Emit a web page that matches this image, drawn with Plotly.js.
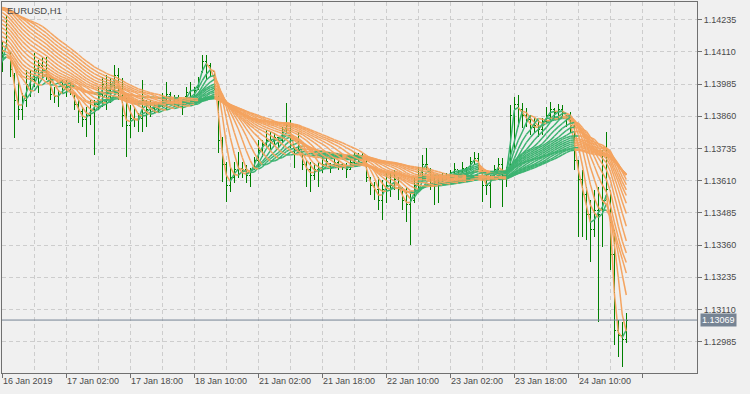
<!DOCTYPE html>
<html>
<head>
<meta charset="utf-8">
<script src="https://cdn.plot.ly/plotly-3.0.1.min.js"></script>
<style>
html,body{margin:0;padding:0;background:#F0F0F0;}
#chart{width:750px;height:394px;}
</style>
</head>
<body>
<div id="chart"></div>
<script>
// EURUSD H1 closes before the visible window (needed for the ribbon averages)
const historyClose = [1.14195,1.14203,1.14176,1.14214,1.14234,1.14226,1.14253,1.14273,1.14292,1.14331,1.14389,
1.14486,1.14467,1.14451,1.14459,1.14428,1.14412,1.14420,1.14389,1.14370,1.14381,1.14350,1.14331,1.14343,1.14312,
1.14288,1.14300,1.14265,1.14242,1.14253,1.14214,1.14195,1.14164,1.14141,1.14149,1.14110,1.14086,1.14098,1.14055,1.14032];

// visible bars, 16 Jan 2019 10:00 -> 24 Jan 22:00 (H1)
const open = [1.14048,1.14129,1.14098,1.14020,1.13923,1.13885,1.13923,1.13982,1.14001,1.14040,
1.14059,1.14040,1.14009,1.13943,1.13935,1.13954,1.13970,1.13970,1.13947,1.13904,
1.13877,1.13846,1.13865,1.13885,1.13904,1.13943,1.13982,1.13962,1.13982,1.14020,
1.13962,1.13865,1.13826,1.13853,1.13846,1.13853,1.13923,1.13885,1.13892,1.13896,
1.13904,1.13923,1.13943,1.13931,1.13923,1.13916,1.13935,1.13954,1.13962,1.13970,
1.14032,1.14071,1.14059,1.14032,1.13974,1.13768,1.13671,1.13593,1.13621,1.13652,
1.13659,1.13652,1.13632,1.13652,1.13690,1.13729,1.13749,1.13768,1.13768,1.13776,
1.13768,1.13807,1.13826,1.13737,1.13721,1.13718,1.13671,1.13652,1.13632,1.13652,
1.13652,1.13671,1.13675,1.13667,1.13679,1.13671,1.13663,1.13652,1.13679,1.13698,
1.13698,1.13702,1.13621,1.13593,1.13574,1.13535,1.13574,1.13593,1.13593,1.13613,
1.13574,1.13535,1.13516,1.13535,1.13593,1.13632,1.13671,1.13655,1.13613,1.13593,
1.13613,1.13624,1.13632,1.13640,1.13652,1.13644,1.13659,1.13652,1.13683,1.13698,
1.13648,1.13593,1.13593,1.13613,1.13652,1.13671,1.13632,1.13655,1.13865,1.13904,
1.13885,1.13865,1.13846,1.13815,1.13826,1.13807,1.13838,1.13865,1.13885,1.13873,
1.13885,1.13861,1.13846,1.13826,1.13690,1.13613,1.13555,1.13477,1.13419,1.13496,
1.13477,1.13535,1.13574,1.13322,1.13030,1.13011,1.12992];

const high = [1.14149,1.14253,1.14110,1.14028,1.14001,1.13951,1.14040,1.14040,1.14106,1.14079,
1.14090,1.14090,1.14013,1.13974,1.13962,1.14001,1.14001,1.13993,1.13951,1.13923,
1.13896,1.13896,1.13923,1.13923,1.13974,1.14013,1.14020,1.14009,1.14059,1.14048,
1.14009,1.13931,1.13904,1.13896,1.13873,1.14001,1.13923,1.13923,1.13916,1.13912,
1.13951,1.13993,1.13954,1.13943,1.13943,1.13916,1.13974,1.13993,1.13974,1.14013,
1.14098,1.14098,1.14067,1.14032,1.13982,1.13780,1.13683,1.13659,1.13683,1.13721,
1.13683,1.13671,1.13659,1.13702,1.13768,1.13768,1.13807,1.13799,1.13795,1.13780,
1.13819,1.13912,1.13846,1.13741,1.13799,1.13721,1.13690,1.13683,1.13679,1.13683,
1.13702,1.13702,1.13679,1.13698,1.13690,1.13679,1.13679,1.13698,1.13721,1.13718,
1.13718,1.13702,1.13624,1.13605,1.13624,1.13613,1.13644,1.13640,1.13652,1.13624,
1.13586,1.13586,1.13562,1.13624,1.13663,1.13710,1.13737,1.13659,1.13624,1.13632,
1.13640,1.13640,1.13652,1.13679,1.13652,1.13683,1.13663,1.13702,1.13721,1.13718,
1.13652,1.13632,1.13632,1.13671,1.13698,1.13698,1.13663,1.13904,1.13935,1.13943,
1.13912,1.13892,1.13865,1.13853,1.13846,1.13853,1.13896,1.13916,1.13892,1.13908,
1.13904,1.13865,1.13877,1.13826,1.13690,1.13652,1.13586,1.13535,1.13574,1.13586,
1.13729,1.13799,1.13574,1.13419,1.13069,1.13061,1.13096];

const low = [1.14032,1.14125,1.14013,1.13776,1.13846,1.13846,1.13896,1.13935,1.13974,1.13951,
1.14001,1.14001,1.13923,1.13912,1.13896,1.13951,1.13935,1.13943,1.13885,1.13834,
1.13819,1.13780,1.13826,1.13710,1.13885,1.13896,1.13885,1.13912,1.13951,1.13923,
1.13819,1.13702,1.13776,1.13819,1.13799,1.13799,1.13819,1.13857,1.13873,1.13877,
1.13896,1.13885,1.13904,1.13896,1.13892,1.13865,1.13931,1.13935,1.13935,1.13962,
1.14028,1.14001,1.14013,1.13962,1.13718,1.13605,1.13527,1.13566,1.13601,1.13621,
1.13621,1.13601,1.13586,1.13652,1.13663,1.13702,1.13741,1.13729,1.13749,1.13741,
1.13756,1.13795,1.13737,1.13659,1.13718,1.13652,1.13586,1.13566,1.13613,1.13586,
1.13640,1.13663,1.13640,1.13663,1.13652,1.13652,1.13621,1.13652,1.13671,1.13683,
1.13690,1.13605,1.13555,1.13535,1.13496,1.13458,1.13524,1.13547,1.13574,1.13535,
1.13496,1.13450,1.13360,1.13524,1.13566,1.13613,1.13652,1.13574,1.13516,1.13524,
1.13605,1.13613,1.13621,1.13624,1.13624,1.13640,1.13624,1.13652,1.13671,1.13652,
1.13527,1.13555,1.13504,1.13613,1.13624,1.13508,1.13586,1.13652,1.13729,1.13819,
1.13815,1.13819,1.13787,1.13795,1.13780,1.13787,1.13834,1.13846,1.13846,1.13846,
1.13853,1.13819,1.13795,1.13652,1.13392,1.13392,1.13380,1.13294,1.13392,1.13061,
1.13353,1.13535,1.13263,1.12972,1.12926,1.12887,1.12980];

const close = [1.14117,1.14156,1.14040,1.13923,1.13885,1.13923,1.13982,1.14001,1.14040,1.14059,
1.14040,1.14020,1.13943,1.13935,1.13943,1.13970,1.13970,1.13954,1.13904,1.13877,
1.13846,1.13865,1.13885,1.13904,1.13943,1.13982,1.13962,1.13982,1.14020,1.13962,
1.13865,1.13826,1.13853,1.13846,1.13853,1.13923,1.13885,1.13892,1.13896,1.13904,
1.13923,1.13943,1.13931,1.13923,1.13916,1.13904,1.13954,1.13962,1.13962,1.14001,
1.14071,1.14059,1.14032,1.13982,1.13768,1.13671,1.13593,1.13621,1.13652,1.13659,
1.13652,1.13632,1.13652,1.13690,1.13729,1.13749,1.13768,1.13768,1.13776,1.13768,
1.13807,1.13826,1.13768,1.13710,1.13729,1.13671,1.13652,1.13632,1.13652,1.13652,
1.13671,1.13683,1.13659,1.13679,1.13671,1.13663,1.13652,1.13679,1.13698,1.13698,
1.13702,1.13621,1.13593,1.13574,1.13535,1.13574,1.13593,1.13593,1.13613,1.13574,
1.13535,1.13516,1.13535,1.13593,1.13632,1.13671,1.13671,1.13613,1.13593,1.13613,
1.13624,1.13632,1.13640,1.13652,1.13644,1.13659,1.13652,1.13683,1.13698,1.13671,
1.13593,1.13593,1.13613,1.13652,1.13671,1.13632,1.13644,1.13865,1.13904,1.13885,
1.13865,1.13846,1.13815,1.13826,1.13807,1.13838,1.13865,1.13885,1.13873,1.13885,
1.13877,1.13846,1.13826,1.13690,1.13613,1.13555,1.13477,1.13419,1.13496,1.13477,
1.13535,1.13574,1.13322,1.13030,1.13011,1.12992,1.13069];

const timeLabels = ['16 Jan 2019','17 Jan 02:00','17 Jan 18:00','18 Jan 10:00','21 Jan 02:00',
'21 Jan 18:00','22 Jan 10:00','23 Jan 02:00','23 Jan 18:00','24 Jan 10:00'];
const priceTicks = [1.12985,1.13110,1.13235,1.13360,1.13485,1.13610,1.13735,1.13860,1.13985,1.14110,1.14235];
const lastPrice = 1.13069;
const ribbonPeriods = [2,4,6,8,10,12,14,16,18,20,22,24,26,28,30,32,34,36,38,40];

const UP = '#3CB371', DOWN = '#F4A460', BAR = '#008000';
const N = close.length;
const idx = close.map((_, i) => i);

const traces = [{
  type: 'ohlc', x: idx, open: open, high: high, low: low, close: close,
  increasing: {line: {color: BAR, width: 1}},
  decreasing: {line: {color: BAR, width: 1}},
  tickwidth: 0.3, hoverinfo: 'skip', showlegend: false
}];

const all = historyClose.concat(close);
const off = historyClose.length;
function sma(p, i) {
  let s = 0;
  for (let k = 0; k < p; k++) s += all[off + i - k];
  return s / p;
}
ribbonPeriods.forEach(p => {
  const ux = [], uy = [], dx = [], dy = [];
  let prev = sma(p, -1);
  for (let i = 0; i < N; i++) {
    const cur = sma(p, i);
    if (cur > prev) { ux.push(i - 1, i, null); uy.push(prev, cur, null); }
    else { dx.push(i - 1, i, null); dy.push(prev, cur, null); }
    prev = cur;
  }
  traces.push({type: 'scatter', mode: 'lines', x: dx, y: dy, line: {color: DOWN, width: 1.5},
    hoverinfo: 'skip', showlegend: false, connectgaps: false});
  traces.push({type: 'scatter', mode: 'lines', x: ux, y: uy, line: {color: UP, width: 1.5},
    hoverinfo: 'skip', showlegend: false, connectgaps: false});
});

const FONT = 'Liberation Sans, Arial, sans-serif';
const annotations = timeLabels.map((t, k) => ({
  text: t, x: k * 16, xref: 'x', y: 0, yref: 'paper', xanchor: 'left', yanchor: 'top',
  yshift: -1, xshift: -1, showarrow: false, font: {family: FONT, size: 9, color: '#4a4a4a'}
}));
annotations.push({text: 'EURUSD,H1', x: 0, xref: 'paper', y: 1, yref: 'paper', xanchor: 'left',
  yanchor: 'top', xshift: 3, yshift: -1, showarrow: false, font: {family: FONT, size: 9.5, color: '#4a4a4a'}});
annotations.push({text: lastPrice.toFixed(5), x: 1, xref: 'paper', y: lastPrice, yref: 'y',
  xanchor: 'left', yanchor: 'middle', xshift: 3, showarrow: false, bgcolor: '#768494',
  borderpad: 1, font: {family: FONT, size: 9, color: '#ffffff'}});

const layout = {
  width: 750, height: 394,
  margin: {l: 2, r: 53, t: 2, b: 21, pad: 0},
  paper_bgcolor: '#F0F0F0', plot_bgcolor: '#F0F0F0',
  showlegend: false,
  xaxis: {
    type: 'linear', range: [-0.075, 173.675], fixedrange: true,
    tickmode: 'linear', tick0: 0, dtick: 16,
    ticks: 'outside', ticklen: 4, tickcolor: '#707070', showticklabels: false,
    showgrid: true, gridcolor: '#CDCDCD', griddash: '4px,3px', gridwidth: 1,
    minor: {tick0: 0, dtick: 8, showgrid: true, gridcolor: '#CDCDCD', griddash: '4px,3px', ticks: ''},
    showline: true, mirror: true, linecolor: '#707070', linewidth: 1, zeroline: false,
    rangeslider: {visible: false}
  },
  yaxis: {
    side: 'right', range: [1.128635, 1.143037], fixedrange: true,
    tickmode: 'array', tickvals: priceTicks, ticktext: priceTicks.map(v => v.toFixed(5)),
    ticks: 'outside', ticklen: 4, tickcolor: '#707070',
    tickfont: {family: FONT, size: 9, color: '#4a4a4a'},
    showgrid: true, gridcolor: '#CDCDCD', griddash: '4px,3px', gridwidth: 1,
    showline: true, mirror: true, linecolor: '#707070', linewidth: 1, zeroline: false
  },
  shapes: [{type: 'line', xref: 'paper', x0: 0, x1: 1, yref: 'y', y0: lastPrice, y1: lastPrice,
    line: {color: '#768494', width: 1}}],
  annotations: annotations
};

Plotly.newPlot('chart', traces, layout, {staticPlot: true, displayModeBar: false}).then(() => {
  document.querySelectorAll('.ohlclayer path').forEach(p => {
    p.style.shapeRendering = 'crispEdges';
  });
});
</script>
</body>
</html>
